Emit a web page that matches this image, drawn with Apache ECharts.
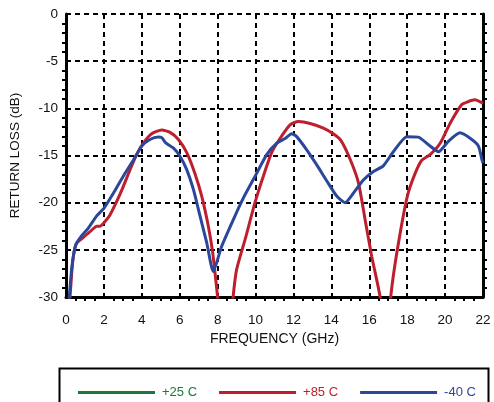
<!DOCTYPE html>
<html>
<head>
<meta charset="utf-8">
<script src="https://cdn.jsdelivr.net/npm/echarts@6/dist/echarts.min.js"></script>
<style>
html,body{margin:0;padding:0;background:#fff;}
#chart{width:494px;height:402px;}
</style>
</head>
<body>
<div id="chart"></div>
<script>
// ---- data ----
var seriesNames = ['+25 C', '+85 C', '-40 C'];
var seriesColors = ['#1a7a3c', '#be1e2d', '#2b479b'];

var green25Freq = [];
var green25Loss = [];

var red85Freq = [0.18, 0.3, 0.4, 0.56, 0.91, 1.36, 1.62, 1.79, 2.06, 2.32, 2.67, 3.02, 3.38, 3.73, 4.08, 4.52, 5.05, 5.49, 5.93, 6.37, 6.8, 7.16, 7.51, 7.74, 7.92, 8.02, 8.1, 8.7, 8.8, 9.0, 9.45, 9.97, 10.41, 10.85, 11.29, 11.82, 12.26, 12.88, 13.58, 14.1, 14.5, 14.99, 15.43, 15.78, 16.13, 16.57, 16.65, 17.05, 17.13, 17.48, 18.01, 18.42, 18.77, 19.21, 19.74, 20.26, 20.88, 21.2, 21.58, 21.94, 22.0];
var red85Loss = [-31, -27.5, -25.5, -24.3, -23.7, -22.9, -22.5, -22.5, -22.0, -21.3, -19.9, -18.3, -16.5, -14.9, -13.7, -12.7, -12.3, -12.55, -13.3, -14.7, -16.9, -19.3, -22.5, -25.3, -28.5, -30.5, -33, -33, -30.3, -27.1, -23.9, -20.0, -17.2, -14.7, -13.2, -11.75, -11.4, -11.6, -12.1, -12.7, -13.4, -15.4, -17.9, -21.8, -25.7, -30.0, -33, -33, -30.0, -25.0, -19.3, -16.9, -15.5, -14.9, -13.7, -11.6, -9.6, -9.3, -9.1, -9.4, -9.5];

var blue40Freq = [0.1, 0.17, 0.3, 0.42, 0.53, 0.83, 1.18, 1.62, 2.0, 2.5, 3.02, 3.55, 4.0, 4.43, 4.87, 5.05, 5.28, 5.66, 6.02, 6.37, 6.72, 7.07, 7.43, 7.77, 8.2, 8.83, 9.36, 10.03, 10.59, 11.12, 11.56, 11.91, 12.17, 12.7, 13.23, 13.76, 14.28, 14.72, 15.16, 15.69, 16.22, 16.74, 17.27, 17.98, 18.59, 19.21, 19.65, 20.17, 20.79, 21.41, 21.76, 21.94, 22.0];
var blue40Loss = [-31, -30, -27, -25.3, -24.4, -23.5, -22.7, -21.4, -20.6, -19.0, -17.2, -15.5, -14.0, -13.3, -13.05, -13.1, -13.7, -14.2, -15.1, -16.5, -18.6, -21.4, -24.3, -27.3, -24.7, -21.8, -19.5, -17.0, -14.9, -13.7, -13.2, -12.7, -13.0, -14.4, -16.0, -17.7, -19.3, -20.0, -19.0, -17.6, -16.7, -16.1, -14.6, -13.0, -13.05, -14.0, -14.6, -13.5, -12.6, -13.3, -14.0, -15.4, -15.8];

var xTicks = [0, 2, 4, 6, 8, 10, 12, 14, 16, 18, 20, 22];
var yTicks = [0, -5, -10, -15, -20, -25, -30];

function pairs(xs, ys) {
  var out = [];
  for (var i = 0; i < xs.length; i++) out.push([xs[i], ys[i]]);
  return out;
}

var FONT = 'Liberation Sans';
var chart = echarts.init(document.getElementById('chart'), null, {renderer: 'canvas'});

var splitLine = {show: true, lineStyle: {color: '#000', width: 2, type: [5, 4]}};

var option = {
  animation: false,
  backgroundColor: '#fff',
  grid: {left: 66, top: 14, right: 11, bottom: 105},
  xAxis: {
    type: 'value',
    min: xTicks[0], max: xTicks[xTicks.length - 1], interval: 2,
    name: 'FREQUENCY (GHz)', nameLocation: 'middle', nameGap: 33,
    nameTextStyle: {fontFamily: FONT, fontSize: 14, color: '#111'},
    axisLine: {show: true, onZero: false, lineStyle: {color: '#000', width: 3}},
    axisTick: {show: false},
    minorTick: {show: true, splitNumber: 4, length: 4, lineStyle: {color: '#000', width: 2}},
    axisLabel: {fontFamily: FONT, fontSize: 13.5, color: '#111', margin: 16},
    splitLine: splitLine
  },
  yAxis: [{
    type: 'value',
    min: yTicks[yTicks.length - 1], max: yTicks[0], interval: 5,
    name: 'RETURN LOSS (dB)', nameLocation: 'middle', nameGap: 44,
    nameTextStyle: {fontFamily: FONT, fontSize: 13.5, color: '#111'},
    axisLine: {show: true, onZero: false, lineStyle: {color: '#000', width: 3}},
    axisTick: {show: false},
    minorTick: {show: true, splitNumber: 5, length: 4, lineStyle: {color: '#000', width: 2}},
    axisLabel: {fontFamily: FONT, fontSize: 13.5, color: '#111', margin: 8},
    splitLine: splitLine
  }, {
    type: 'value', position: 'right',
    min: yTicks[yTicks.length - 1], max: yTicks[0], interval: 5,
    axisLine: {show: true, onZero: false, lineStyle: {color: '#000', width: 3}},
    axisTick: {show: false},
    minorTick: {show: true, splitNumber: 5, length: 4, lineStyle: {color: '#000', width: 2}},
    axisLabel: {show: false},
    splitLine: {show: false}
  }],
  legend: {
    left: 73, top: 381,
    icon: 'rect', itemWidth: 77, itemHeight: 3, itemGap: 22,
    textStyle: {fontFamily: FONT, fontSize: 13, padding: [0, 0, 0, 2]},
    data: seriesNames.map(function (n, i) {
      return {name: n, textStyle: {color: seriesColors[i]}};
    })
  },
  graphic: [{
    type: 'rect', left: 57, top: 366,
    shape: {width: 429, height: 50},
    style: {fill: 'none', stroke: '#000', lineWidth: 2},
    silent: true, z: 0
  }],
  series: [
    {name: seriesNames[0], type: 'line', color: seriesColors[0], data: pairs(green25Freq, green25Loss),
     showSymbol: false, lineStyle: {width: 3}, z: 3},
    {name: seriesNames[1], type: 'line', color: seriesColors[1], data: pairs(red85Freq, red85Loss),
     showSymbol: false, smooth: 0.2, clip: true, lineStyle: {width: 3}, z: 4},
    {name: seriesNames[2], type: 'line', color: seriesColors[2], data: pairs(blue40Freq, blue40Loss),
     showSymbol: false, smooth: 0.2, clip: true, lineStyle: {width: 3}, z: 5}
  ]
};
chart.setOption(option);
</script>
</body>
</html>
